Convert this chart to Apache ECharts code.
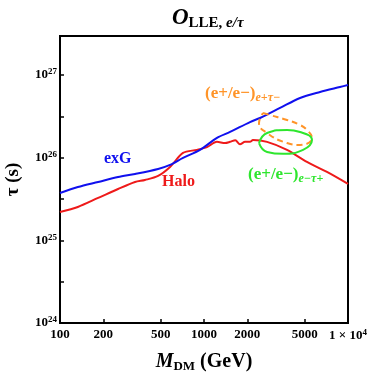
<!DOCTYPE html>
<html>
<head>
<meta charset="utf-8">
<script src="https://cdn.jsdelivr.net/npm/echarts@6/dist/echarts.min.js"></script>
<style>
  html, body { margin: 0; padding: 0; background: #fff; }
  #main { width: 371px; height: 376px; }
</style>
</head>
<body>
<div id="main"></div>
<script>
// DM mass (GeV) and lifetime (s)
var exgMass = [100, 133, 184, 253, 332, 480, 581, 715, 938, 1230, 1517, 2086, 2448, 3373, 4645, 6397, 8796, 10000];
var exgTau = [3.73e25, 4.4e25, 5.07e25, 5.82e25, 6.34e25, 7.28e25, 8.15e25, 9.89e25, 1.24e26, 1.73e26, 2.04e26, 2.69e26, 3.01e26, 3.98e26, 5.26e26, 6.21e26, 7.14e26, 7.55e26];

var haloMass = [100, 133, 184, 253, 332, 389, 480, 581, 715, 893, 1049, 1230, 1400, 1517, 1650, 1778, 1930, 2086, 2188, 2742, 3771, 5188, 7145, 10000];
var haloTau = [2.2e25, 2.53e25, 3.25e25, 4.17e25, 5.07e25, 5.36e25, 6.0e25, 7.69e25, 1.14e26, 1.24e26, 1.34e26, 1.55e26, 1.5e26, 1.55e26, 1.62e26, 1.45e26, 1.55e26, 1.55e26, 1.63e26, 1.55e26, 1.24e26, 8.86e25, 6.7e25, 4.8e25];

// (e+/e-) e+tau- contour (dashed orange)
var etMinusMass = [2570, 2873, 3771, 4645, 5188, 5623, 4645, 3771, 2742, 2410];
var etMinusTau = [3.46e26, 3.27e26, 2.85e26, 2.48e26, 2.16e26, 1.73e26, 1.42e26, 1.5e26, 1.98e26, 2.62e26];

// (e+/e-) e-tau+ contour (green)
var etPlusMass = [2410, 2742, 3771, 4645, 5623, 4875, 3540, 2742];
var etPlusTau = [1.5e26, 1.98e26, 2.16e26, 2.04e26, 1.63e26, 1.24e26, 1.11e26, 1.17e26];

var xTicks = [100, 200, 500, 1000, 2000, 5000, 10000];
var yLabels = [1e24, 1e25, 1e26, 1e27];
var yTicks = [1e24, 3.16e24, 1e25, 3.16e25, 1e26, 3.16e26, 1e27];

function lg(v) { return Math.log10(v); }
function pts(ms, ts, closed) {
  var out = ms.map(function (m, i) { return [lg(m), lg(ts[i])]; });
  if (closed) out.push(out[0]);
  return out;
}

var serif = 'Liberation Serif';
var orange = '#ff9428';
var green = '#2ee62e';
var chart = echarts.init(document.getElementById('main'));

var option = {
  animation: false,
  title: {
    text: '{o|O}{s|LLE, }{si|e/τ}',
    left: 167,
    top: 1,
    textStyle: {
      rich: {
        o: { fontFamily: serif, fontSize: 23, fontStyle: 'italic', fontWeight: 'bold', color: '#000' },
        s: { fontFamily: serif, fontSize: 15, fontWeight: 'bold', color: '#000', padding: [10, 0, 0, 0] },
        si: { fontFamily: serif, fontSize: 15, fontStyle: 'italic', fontWeight: 'bold', color: '#000', padding: [10, 0, 0, 0] }
      }
    }
  },
  grid: {
    left: 60, right: 23, top: 36, bottom: 53,
    outerBoundsMode: 'none',
    containLabel: false,
    show: true, borderColor: '#000', borderWidth: 2, backgroundColor: 'transparent'
  },
  xAxis: {
    type: 'value',
    min: 2, max: 4,
    splitLine: { show: false },
    axisLine: { show: false },
    axisTick: { show: true, inside: true, length: 4, lineStyle: { color: '#000', width: 1.5 }, customValues: xTicks.map(lg) },
    axisLabel: {
      customValues: xTicks.map(lg),
      margin: 5,
      hideOverlap: false,
      fontFamily: serif, fontWeight: 'bold', fontSize: 13, color: '#000',
      formatter: function (v) {
        var m = Math.round(Math.pow(10, v));
        return m === 10000 ? '1 × 10{sup|4}' : String(m);
      },
      rich: { sup: { fontFamily: serif, fontWeight: 'bold', fontSize: 9, color: '#000', verticalAlign: 'top', padding: [0, 0, 6, 0] } }
    },
    name: '{m|M}{d|DM}{g| (GeV)}',
    nameLocation: 'middle',
    nameGap: 28,
    nameTextStyle: {
      rich: {
        m: { fontFamily: serif, fontSize: 20, fontStyle: 'italic', fontWeight: 'bold', color: '#000' },
        d: { fontFamily: serif, fontSize: 13, fontWeight: 'bold', color: '#000', padding: [9, 0, 0, 0] },
        g: { fontFamily: serif, fontSize: 20, fontWeight: 'bold', color: '#000' }
      }
    }
  },
  yAxis: {
    type: 'value',
    min: 24, max: 27.47,
    splitLine: { show: false },
    axisLine: { show: false },
    axisTick: { show: true, inside: true, length: 4, lineStyle: { color: '#000', width: 1.5 }, customValues: yTicks.map(lg) },
    axisLabel: {
      customValues: yLabels.map(lg),
      margin: 3,
      hideOverlap: false,
      fontFamily: serif, fontWeight: 'bold', fontSize: 13, color: '#000',
      formatter: function (v) { return '10{sup|' + Math.round(v) + '}'; },
      rich: { sup: { fontFamily: serif, fontWeight: 'bold', fontSize: 9, color: '#000', verticalAlign: 'top', padding: [0, 0, 6, 0] } }
    },
    name: 'τ (s)',
    nameLocation: 'middle',
    nameGap: 37,
    nameRotate: 90,
    nameTextStyle: { fontFamily: serif, fontSize: 19, fontWeight: 'bold', color: '#000' }
  },
  series: [
    { name: 'exG', type: 'line', smooth: 0.3, showSymbol: false, data: pts(exgMass, exgTau), lineStyle: { color: '#1010ee', width: 2 }, z: 3 },
    { name: 'Halo', type: 'line', smooth: 0.3, showSymbol: false, data: pts(haloMass, haloTau), lineStyle: { color: '#ee1a1a', width: 2 }, z: 2 },
    { name: 'e+tau-', type: 'line', smooth: 0.5, showSymbol: false, data: pts(etMinusMass, etMinusTau, true), lineStyle: { color: orange, width: 2, type: [6, 4] }, z: 4 },
    { name: 'e-tau+', type: 'line', smooth: 0.5, showSymbol: false, data: pts(etPlusMass, etPlusTau, true), lineStyle: { color: green, width: 2 }, z: 4 }
  ],
  graphic: [
    { type: 'text', left: 104, top: 151, style: { text: 'exG', font: 'bold 16px "Liberation Serif"', fill: '#1010ee' } },
    { type: 'text', left: 162, top: 174, style: { text: 'Halo', font: 'bold 16px "Liberation Serif"', fill: '#ee1a1a' } },
    { type: 'text', left: 205, top: 85, style: {
      text: '{a|(e+/e−)}{b|e+τ−}',
      rich: {
        a: { fontFamily: serif, fontSize: 17, fontWeight: 'bold', fill: orange },
        b: { fontFamily: serif, fontSize: 12, fontStyle: 'italic', fontWeight: 'bold', fill: orange, padding: [9, 0, 0, 0] }
      } } },
    { type: 'text', left: 248, top: 166, style: {
      text: '{a|(e+/e−)}{b|e−τ+}',
      rich: {
        a: { fontFamily: serif, fontSize: 17, fontWeight: 'bold', fill: green },
        b: { fontFamily: serif, fontSize: 12, fontStyle: 'italic', fontWeight: 'bold', fill: green, padding: [9, 0, 0, 0] }
      } } }
  ]
};

chart.setOption(option);
</script>
</body>
</html>
